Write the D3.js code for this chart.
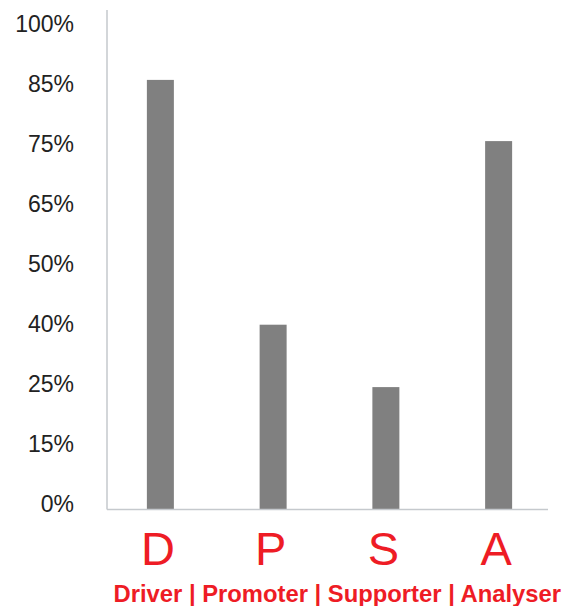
<!DOCTYPE html>
<html>
<head>
<meta charset="utf-8">
<script src="https://cdn.jsdelivr.net/npm/d3@7"></script>
<style>
  html, body { margin: 0; padding: 0; background: #fff; }
  svg { display: block; }
</style>
</head>
<body>
<svg id="chart" width="572" height="606"></svg>
<script>
const categories = ["D", "P", "S", "A"];
const values = [87.4, 40.8, 25.6, 76.4];
const tickValues = [0, 15, 25, 40, 50, 65, 75, 85, 100];
const tickLabels = ["0%", "15%", "25%", "40%", "50%", "65%", "75%", "85%", "100%"];
const subtitle = "Driver | Promoter | Supporter | Analyser";

const svg = d3.select("#chart");
const font = "'Liberation Sans', Arial, Helvetica, sans-serif";

const baseY = 509.5, topY = 29.5;
const y = d3.scaleLinear()
  .domain(tickValues)
  .range(tickValues.map((d, i) => baseY - i * (baseY - topY) / (tickValues.length - 1)));

const x = d3.scalePoint().domain(categories).range([104, 555]).padding(0.5);
const barW = 27;

// y labels
const yAxis = d3.axisLeft(y).tickValues(tickValues)
  .tickFormat((d, i) => tickLabels[i]).tickSize(0).tickPadding(0);
const gy = svg.append("g").attr("transform", "translate(74,-5)").call(yAxis);
gy.select(".domain").remove();
gy.selectAll("text")
  .attr("font-family", font).attr("font-size", 23).attr("fill", "#222");

// bars
svg.append("g").selectAll("rect").data(values).join("rect")
  .attr("x", (d, i) => x(categories[i]) - barW / 2)
  .attr("width", barW)
  .attr("y", d => y(d))
  .attr("height", d => baseY - y(d))
  .attr("fill", "#808080");

// axis lines
svg.append("line").attr("x1", 107).attr("x2", 107).attr("y1", 10).attr("y2", baseY)
  .attr("stroke", "#c5c9cd").attr("stroke-width", 1.5);
svg.append("line").attr("x1", 107).attr("x2", 548).attr("y1", baseY).attr("y2", baseY)
  .attr("stroke", "#c5c9cd").attr("stroke-width", 1.5);

// category letters
svg.append("g").selectAll("text").data(categories).join("text")
  .attr("x", d => x(d) - 2.5)
  .attr("y", 565)
  .attr("text-anchor", "middle")
  .attr("font-family", font).attr("font-size", 47)
  .attr("fill", "#ee1c25")
  .text(d => d);

svg.append("text")
  .attr("x", 113.5).attr("y", 601.5)
  .attr("font-family", font).attr("font-size", 23.8).attr("font-weight", "bold")
  .attr("fill", "#ee1c25")
  .text(subtitle);
</script>
</body>
</html>
